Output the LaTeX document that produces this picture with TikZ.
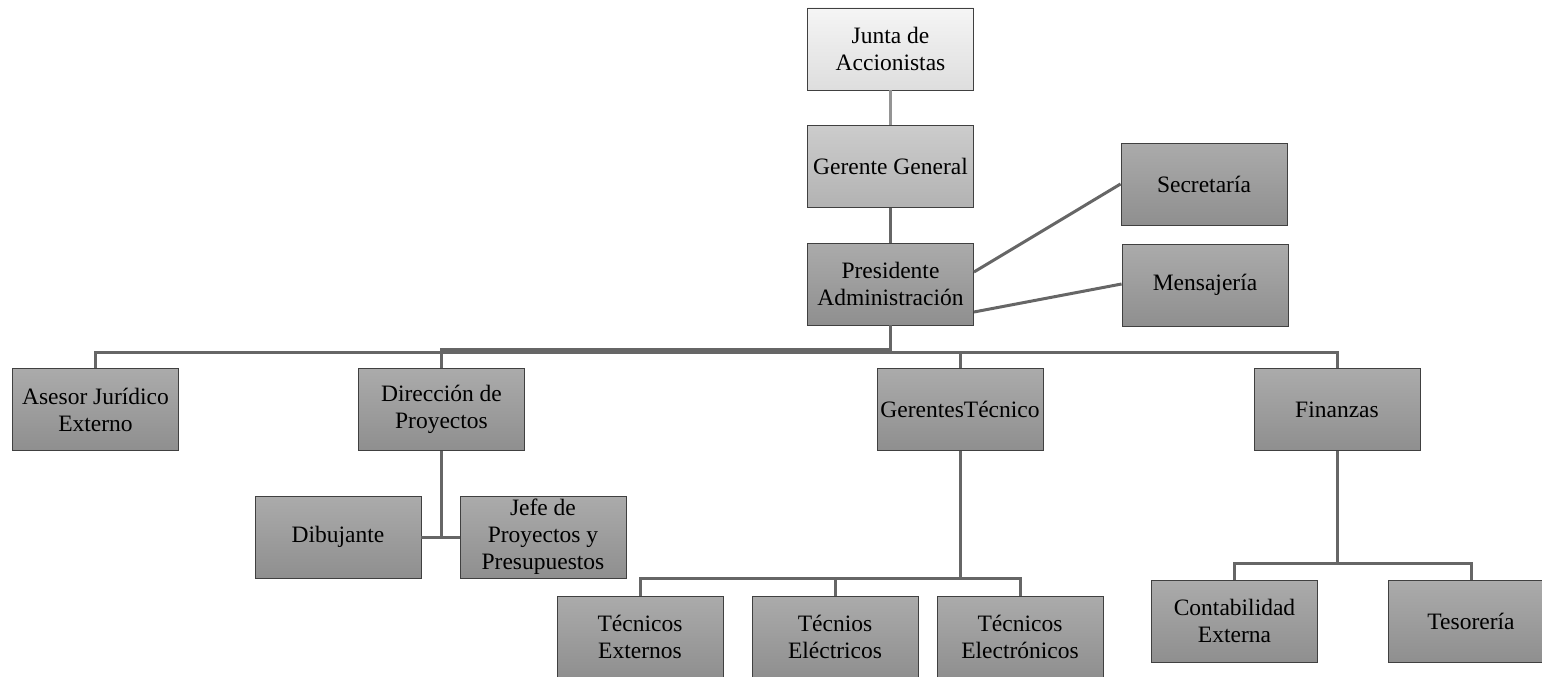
\documentclass[tikz,border=0pt]{standalone}
\usepackage{fontspec}
\setmainfont{Liberation Serif}
\begin{document}
\begin{tikzpicture}[x=1pt,y=-1pt,
  unit/.style={draw=black!75, line width=0.9pt, minimum width=166pt, minimum height=82pt,
    inner sep=2pt, align=center, font=\fontsize{23.5}{27}\selectfont,
    top color=black!33, bottom color=black!44},
  light/.style={unit, top color=black!4, bottom color=black!13},
  mid/.style={unit, top color=black!20, bottom color=black!30},
  link/.style={draw=black!60, line width=3pt},
  thin link/.style={draw=black!42, line width=2.5pt}]
\useasboundingbox (0,0) rectangle (1542,677);

% board and top management
\node[light] (junta) at (890.5,49) {Junta de\\Accionistas};
\node[mid] (gerente) at (890.5,166.5) {Gerente General};
\node[unit] (pres) at (890.5,284) {Presidente\\Administración};
\node[unit] (secre) at (1204,184) {Secretaría};
\node[unit] (mensa) at (1205,285) {Mensajería};

% departments
\node[unit] (asesor) at (95.5,409.5) {Asesor Jurídico\\Externo};
\node[unit] (direc) at (441.5,409.5) {Dirección de\\Proyectos};
\node[unit] (tecnico) at (960,409.5) {GerentesTécnico};
\node[unit] (finan) at (1337,409.5) {Finanzas};

% staff under projects
\node[unit] (dibu) at (338,537) {Dibujante};
\node[unit] (jefe) at (543,537) {Jefe de\\Proyectos y\\Presupuestos};

% technicians
\node[unit] (texter) at (640,637) {Técnicos\\Externos};
\node[unit] (telec) at (835,637) {Técnios\\Eléctricos};
\node[unit] (telectr) at (1020,637) {Técnicos\\Electrónicos};

% finance staff
\node[unit] (conta) at (1234.5,621) {Contabilidad\\Externa};
\node[unit] (teso) at (1471,621) {Tesorería};

% connectors
\draw[thin link] (junta.south) -- (gerente.north);
\draw[link] (gerente.south) -- (pres.north);
\draw[link] ([yshift=12pt]pres.east) -- (secre.west);
\draw[link] ([yshift=-28pt]pres.east) -- ([yshift=1pt]mensa.west);

\draw[link] (pres.south) -- (890.5,349) -| (direc.north);
\coordinate (bus) at (890.5,352);
\draw[link] (bus) -| (asesor.north);
\draw[link] (bus) -| (tecnico.north);
\draw[link] (bus) -- (960,352) -| (finan.north);

\coordinate (dj) at (direc.south |- dibu.east);
\draw[link] (direc.south) -- (dj);
\draw[link] (dibu.east) -- (jefe.west);

\coordinate (tj) at (960,578);
\draw[link] (tecnico.south) -- (tj);
\draw[link] (tj) -| (texter.north);
\draw[link] (tj) -| (telec.north);
\draw[link] (tj) -| (telectr.north);

\coordinate (fj) at (1337,563);
\draw[link] (finan.south) -- (fj);
\draw[link] (fj) -| (conta.north);
\draw[link] (fj) -| (teso.north);
\end{tikzpicture}
\end{document}
